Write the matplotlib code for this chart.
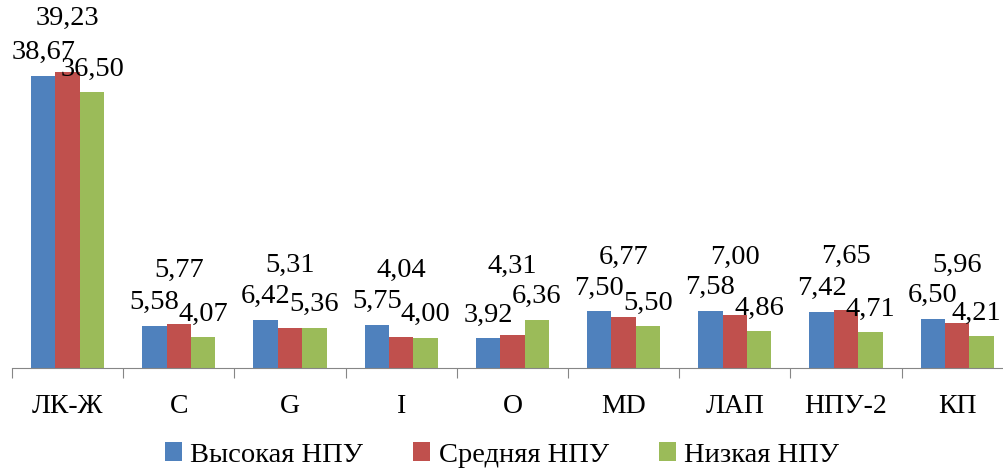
import numpy as np
import matplotlib.pyplot as plt
from matplotlib.patches import Patch

plt.rcParams['font.family'] = ['Liberation Serif', 'DejaVu Serif']

# data
categories = ['ЛК-Ж', 'C', 'G', 'I', 'O', 'MD', 'ЛАП', 'НПУ-2', 'КП']
series = ['Высокая НПУ', 'Средняя НПУ', 'Низкая НПУ']
high = [38.67, 5.58, 6.42, 5.75, 3.92, 7.50, 7.58, 7.42, 6.50]
mid = [39.23, 5.77, 5.31, 4.04, 4.31, 6.77, 7.00, 7.65, 5.96]
low = [36.50, 4.07, 5.36, 4.00, 6.36, 5.50, 4.86, 4.71, 4.21]
colors = ['#4F81BD', '#C0504D', '#9BBB59']

fig = plt.figure(figsize=(10.04, 4.68), dpi=100)
W, H = 1004, 468
# axes: x from 12 px, one category = 111.2 px; baseline at y=368 px
ax = fig.add_axes([12 / W, (H - 368) / H, 9 * 111.2 / W, 45 * 7.55 / H])
ax.set_xlim(0, 9)
ax.set_ylim(0, 45)

x = np.arange(len(categories)) + 0.5
bw = 0.22
group_max = np.max([high, mid, low], axis=0)
labels = []
for i, vals in enumerate([high, mid, low]):
    xs = x + (i - 1) * bw
    ax.bar(xs, vals, width=bw, color=colors[i], edgecolor='none')
    for xi, v, gm in zip(xs, vals, group_max):
        # outer labels sit on their bar, the middle one above the whole group
        if i == 1:
            base, off = gm, 34
        else:
            base, off = v, 12
        t = ax.annotate(f'{v:.2f}'.replace('.', ','), (xi, base),
                        xytext=(0, off), textcoords='offset points',
                        ha='center', va='baseline', fontsize=20.5, color='black')
        labels.append((t, off))

for s in ['top', 'right', 'left']:
    ax.spines[s].set_visible(False)
ax.spines['bottom'].set_color('#868686')
ax.set_yticks([])
ax.set_xticks(np.arange(0, 10))
ax.set_xticklabels([])
ax.tick_params(axis='x', which='major', length=7, color='#868686', direction='out')
ax.set_xticks(x, categories, minor=True)
ax.tick_params(axis='x', which='minor', length=0, pad=19, labelsize=20)

handles = [Patch(facecolor=c, edgecolor='none') for c in colors]
fig.legend(handles, series, loc='center', bbox_to_anchor=(0.5, 1 - 455 / H),
           ncol=3, frameon=False, fontsize=20.5, handlelength=0.6, handleheight=0.6,
           handletextpad=0.3, columnspacing=1.75)

# keep labels inside the figure on the right edge
r = fig.canvas.get_renderer()
for t, off in labels:
    bb = t.get_window_extent(r)
    over = bb.x1 - (W - 3)
    if over > 0:
        t.set_position((-over * 72 / 100, off))

fig.savefig('out.png', dpi=100)
